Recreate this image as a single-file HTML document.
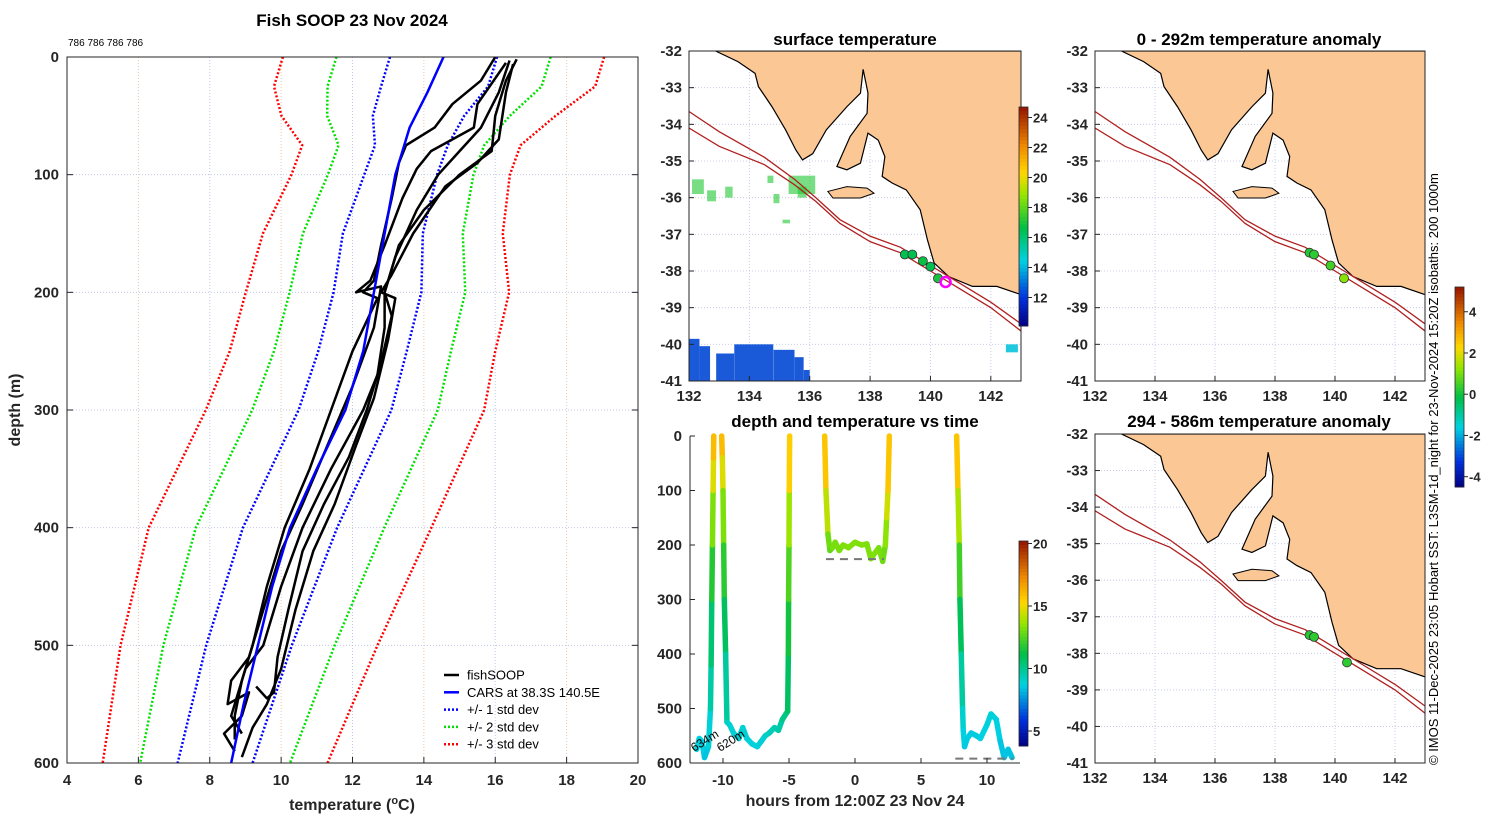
<!DOCTYPE html>
<html><head><meta charset="utf-8">
<style>
html,body{margin:0;padding:0;background:#fff;}
svg{display:block;font-family:"Liberation Sans","DejaVu Sans",sans-serif;}
.tk{font-size:15px;font-weight:bold;fill:#262626;}
.ttl{font-size:17px;font-weight:bold;fill:#000;}
.lg{font-size:13px;fill:#000;}
</style></head>
<body>
<svg id="s" width="1500" height="820" viewBox="0 0 1500 820" xmlns="http://www.w3.org/2000/svg">
<text class="ttl" x="352" y="26" text-anchor="middle">Fish SOOP 23 Nov 2024</text>
<text x="68" y="46" style="font-size:10px">786 786 786 786</text>
<text class="ttl" x="855" y="45" text-anchor="middle">surface temperature</text>
<text class="ttl" x="855" y="427" text-anchor="middle">depth and temperature vs time</text>
<text class="ttl" x="1259" y="45" text-anchor="middle">0 - 292m temperature anomaly</text>
<text class="ttl" x="1259" y="427" text-anchor="middle">294 - 586m temperature anomaly</text>
<text x="1438" y="765" transform="rotate(-90 1438 765)" style="font-size:13px">© IMOS 11-Dec-2025 23:05 Hobart SST: L3SM-1d_night for 23-Nov-2024 15:20Z isobaths: 200  1000m</text>
</svg>
<script>
// ---------- profile data ----------
const stdDepths=[0,25,50,75,100,150,200,250,300,400,500,600];
const stdCenter=[14.55,14.3,13.85,13.65,13.35,12.85,12.7,12.28,11.79,10.25,9.1,8.15];
const stdSd=[1.5,1.5,1.28,1.02,1.02,1.12,1.23,1.24,1.3,1.32,1.2,1.05];
const carsDepths=[0,30,60,100,150,200,250,300,350,400,450,500,550,600];
const carsTemps=[14.55,14.1,13.6,13.2,12.9,12.6,12.3,11.8,11.0,10.25,9.75,9.35,8.95,8.6];
const fishProfiles=[
 [[0,16.0],[20,15.6],[40,14.8],[60,14.3],[75,13.5],[90,13.3],[120,13.1],[160,12.8],[190,12.6],[200,12.3],[205,12.7],[250,12.0],[300,11.4],[350,10.8],[400,10.1],[450,9.6],[500,9.2],[530,8.9],[560,8.7],[580,8.7]],
 [[3,16.4],[30,16.1],[60,15.6],[80,15.0],[100,14.4],[130,13.8],[170,13.2],[200,12.9],[220,13.1],[260,12.8],[300,12.4],[340,11.9],[380,11.2],[420,10.6],[470,10.2],[510,9.9],[540,9.8],[545,9.6],[535,9.3]],
 [[5,16.3],[40,15.5],[60,15.4],[80,14.2],[95,13.8],[120,13.4],[160,12.9],[190,12.5],[200,12.1],[195,12.8],[230,12.6],[280,12.0],[330,11.3],[380,10.6],[420,10.0],[470,9.5],[510,9.1],[530,8.6],[550,8.5],[540,9.1],[560,8.9],[575,8.4],[590,8.7]],
 [[2,16.6],[20,16.3],[50,16.0],[80,15.9],[100,15.0],[130,14.0],[160,13.3],[200,12.9],[230,12.9],[270,12.7],[300,12.3],[350,11.4],[400,10.6],[450,10.0],[500,9.5],[520,9.0],[540,8.8],[560,8.6],[575,8.9]],
 [[6,16.5],[30,16.3],[70,16.1],[90,15.5],[110,14.6],[150,13.7],[185,13.1],[200,12.8],[205,13.2],[240,13.0],[290,12.6],[330,12.1],[380,11.5],[420,10.9],[470,10.4],[520,10.0],[550,9.6],[570,9.2],[595,8.9]]
];
const tempTicks=[4,6,8,10,12,14,16,18,20];
const depthTicks=[0,100,200,300,400,500,600];
// ---------- time series data ----------
const trackHours=[
 [-12.0,-11.8,-11.6,-11.4,-11.1,-10.95,-10.9,-10.85,-10.8,-10.75,-10.72,-10.7],
 [-10.1,-10.05,-10.0,-9.95,-9.9,-9.8,-9.7,-9.5,-9.2,-8.8,-8.5,-8.2,-7.8,-7.4,-7.1,-6.8,-6.5,-6.1,-5.8,-5.5,-5.1,-5.05,-5.03,-5.0,-4.98,-4.95],
 [-2.3,-2.2,-2.05,-1.9,-1.7,-1.5,-1.2,-0.9,-0.5,0,0.5,0.9,1.2,1.5,1.8,2.1,2.3,2.4,2.5,2.6],
 [7.7,7.8,7.9,7.95,8.05,8.15,8.2,8.3,8.5,8.8,9.2,9.5,10.0,10.3,10.7,11.0,11.3,11.6,11.9]];
const trackDepths=[
 [575,555,560,590,570,500,420,300,200,100,40,0],
 [0,40,100,200,300,400,525,530,545,555,535,555,565,570,560,550,545,535,540,520,505,400,300,200,100,0],
 [0,100,180,210,205,195,210,200,205,195,200,198,225,215,205,230,200,150,100,0],
 [0,100,200,300,400,500,540,570,555,545,550,555,530,510,520,560,590,575,590]];
const trackTemps=[
 [8.8,8.8,8.8,8.5,8.5,9.3,10,11,12.5,14,15.5,16.5],
 [16.5,15.5,14,12.5,11.3,10.3,9.3,9,8.9,8.9,9,8.9,8.8,8.8,8.9,9,9.2,9.5,9.5,9.8,10.5,11,12,13,14.5,16.5],
 [16.5,15,13.5,12.5,13,13.3,13,13.3,13.3,13.3,13.3,13.3,13.2,13.3,13.3,13,13,14,15,16.5],
 [16.5,15,13,11.5,10.3,9.2,8.8,8.6,8.6,8.6,8.6,8.6,8.8,8.9,8.8,8.6,8.4,8.5,8.4]];
const hourTicks=[-10,-5,0,5,10];
const depthTicks2=[0,100,200,300,400,500,600];
// ---------- map data ----------
const landLon=[132.88,133.62,134.19,134.3,134.75,135.2,135.54,135.76,136.1,136.55,137.23,137.68,137.77,137.93,137.9,137.34,136.9,137.23,137.68,137.93,138.27,138.49,138.4,138.73,139.2,139.66,139.9,140.12,140.6,141.39,142.2,143.2,143.2];
const landLat=[-32.0,-32.29,-32.61,-32.97,-33.52,-34.15,-34.7,-34.97,-34.8,-34.15,-33.52,-33.15,-32.5,-33.15,-33.7,-34.33,-35.15,-35.24,-35.06,-34.24,-34.43,-34.88,-35.42,-35.6,-35.79,-36.33,-37.15,-37.78,-38.15,-38.42,-38.42,-38.7,-32.0];
const islandLon=[136.6,137.23,137.9,138.13,137.68,136.77];
const islandLat=[-35.83,-35.7,-35.74,-35.88,-36.01,-36.01];
const iso1Lon=[132,133,134.5,135.5,136.2,137,138,139,140,141,142,143.1];
const iso1Lat=[-33.65,-34.2,-34.9,-35.5,-36.0,-36.6,-37.05,-37.35,-37.85,-38.35,-38.85,-39.5];
const iso2Lon=[132,133,134.5,135.5,136.2,137,138,139,140,141,142,143.1];
const iso2Lat=[-34.1,-34.6,-35.1,-35.65,-36.1,-36.7,-37.2,-37.5,-38.0,-38.5,-39.0,-39.7];
const sstDotLon=[139.15,139.4,139.75,140.0,140.25];
const sstDotLat=[-37.55,-37.55,-37.73,-37.88,-38.2];
const sstDotVal=[16.5,16.5,16.8,16.5,17];
const anomTopLon=[139.15,139.3,139.85,140.3];
const anomTopLat=[-37.5,-37.55,-37.85,-38.2];
const anomTopVal=[0.2,0.3,0.5,1.2];
const anomBotLon=[139.15,139.3,140.4];
const anomBotLat=[-37.5,-37.55,-38.25];
const anomBotVal=[0.2,0.3,0.3];
const lonTicks=[132,134,136,138,140,142];
const latTicks=[-32,-33,-34,-35,-36,-37,-38,-39,-40,-41];

const NS='http://www.w3.org/2000/svg';
const svg=document.getElementById('s');
function mk(tag,attrs,parent){const e=document.createElementNS(NS,tag);for(const k in attrs)e.setAttribute(k,attrs[k]);(parent||svg).appendChild(e);return e;}
const CM=[[0,0,0,130],[0.13,0,50,220],[0.3,0,210,225],[0.45,0,190,70],[0.6,150,230,0],[0.7,255,215,0],[0.82,240,140,0],[1,150,20,0]];
function jet(t){t=Math.max(0,Math.min(1,t));
 for(let i=0;i<CM.length-1;i++){const a=CM[i],b=CM[i+1];if(t<=b[0]){const f=(t-a[0])/(b[0]-a[0]);
  return `rgb(${Math.round(a[1]+f*(b[1]-a[1]))},${Math.round(a[2]+f*(b[2]-a[2]))},${Math.round(a[3]+f*(b[3]-a[3]))})`;}}
 return 'rgb(150,20,0)';}

// ===== profile chart =====
const P={x0:67,x1:638,y0:57,y1:763};
const px=t=>P.x0+(t-4)/16*(P.x1-P.x0);
const py=d=>P.y0+d/600*(P.y1-P.y0);
tempTicks.forEach((t,i)=>{
 if(i>0&&i<tempTicks.length-1){const g=mk('line',{x1:px(t),x2:px(t),y1:P.y0,y2:P.y1,stroke:i%2?'#e8c8b0':'#c0c8e8','stroke-width':1,'stroke-dasharray':'1 2'});
 }
 const l=mk('text',{x:px(t),y:P.y1+22,class:'tk','text-anchor':'middle'});l.textContent=t;
 
 mk('line',{x1:px(t),x2:px(t),y1:P.y1,y2:P.y1-6,stroke:'#262626'});
});
depthTicks.forEach((d,i)=>{
 if(i>0&&i<depthTicks.length-1){const g=mk('line',{x1:P.x0,x2:P.x1,y1:py(d),y2:py(d),stroke:'#c0c8e8','stroke-width':1,'stroke-dasharray':'1 2'});
 }
 const l=mk('text',{x:P.x0-8,y:py(d)+5,class:'tk','text-anchor':'end'});l.textContent=d;
 
 mk('line',{x1:P.x0,x2:P.x0+6,y1:py(d),y2:py(d),stroke:'#262626'});
 mk('line',{x1:P.x1,x2:P.x1-6,y1:py(d),y2:py(d),stroke:'#262626'});
});
const stdCols=['#0000ff','#00e000','#ff0000'];
[1,2,3].forEach(k=>{[-1,1].forEach(sg=>{
 const pts=stdDepths.map((d,i)=>px(stdCenter[i]+sg*k*stdSd[i])+','+py(d)).join(' ');
 const l=mk('polyline',{points:pts,fill:'none',stroke:stdCols[k-1],'stroke-width':2.5,'stroke-dasharray':'2 2'});
 
});});
fishProfiles.forEach((pr,i)=>{
 const l=mk('polyline',{points:pr.map(p=>px(p[1])+','+py(p[0])).join(' '),fill:'none',stroke:'#000','stroke-width':2.5,'stroke-linejoin':'round'});
 
});
{const l=mk('polyline',{points:carsDepths.map((d,i)=>px(carsTemps[i])+','+py(d)).join(' '),fill:'none',stroke:'#0000ff','stroke-width':2.5});
 }
{const f=mk('rect',{x:P.x0,y:P.y0,width:P.x1-P.x0,height:P.y1-P.y0,fill:'none',stroke:'#262626','stroke-width':1});
 }
{const t=mk('text',{x:352,y:810,class:'tk','text-anchor':'middle'});t.style.fontSize='16px';t.innerHTML='temperature (<tspan dy="-6" font-size="11">o</tspan><tspan dy="6">C)</tspan>';
 
 const y=mk('text',{x:20,y:410,class:'tk','text-anchor':'middle',transform:'rotate(-90 20 410)'});y.textContent='depth (m)';y.style.fontSize='16px';
 }
const legNames=['fishSOOP','CARS at 38.3S 140.5E','+/- 1 std dev','+/- 2 std dev','+/- 3 std dev'];
const legCols=['#000','#0000ff','#0000ff','#00e000','#ff0000'];
legNames.forEach((n,i)=>{const y=675+i*17.3;
 const g=mk('g',{});
 mk('line',{x1:444,x2:459,y1:y,y2:y,stroke:legCols[i],'stroke-width':2.5,'stroke-dasharray':i>1?'2 2':'none'},g);
 const t=mk('text',{x:467,y:y+4.5,class:'lg'},g);t.textContent=n;});

// ===== maps =====
function drawMap(M,name){
 const mx=lon=>M.x0+(lon-132)/11*(M.x1-M.x0), my=lat=>M.y0+(-32-lat)/9*(M.y1-M.y0);
 const g=mk('g',{});
 const cid='c'+name;const cp=mk('clipPath',{id:cid},g);mk('rect',{x:M.x0,y:M.y0,width:M.x1-M.x0,height:M.y1-M.y0},cp);
 const inner=mk('g',{'clip-path':`url(#${cid})`},g);
 lonTicks.forEach(l=>mk('line',{x1:mx(l),x2:mx(l),y1:M.y0,y2:M.y1,stroke:'#c8cce8','stroke-dasharray':'1 2'},inner));
 latTicks.forEach(l=>mk('line',{x1:M.x0,x2:M.x1,y1:my(l),y2:my(l),stroke:'#c8cce8','stroke-dasharray':'1 2'},inner));
 if(M.sst){
  const blues=[[132,-39.85,0.35,-41],[132.35,-40.05,0.35,-41],[132.9,-40.25,0.6,-41],[133.5,-40.0,1.3,-41],[134.8,-40.15,0.7,-41],[135.5,-40.35,0.3,-41],[135.8,-40.7,0.2,-41]];
  blues.forEach(r=>{const e=mk('rect',{x:mx(r[0]),y:my(r[1]),width:r[2]*30,height:my(r[3])-my(r[1]),fill:'#1a5ad8'},inner);
   });
  const cy=mk('rect',{x:mx(142.5),y:my(-40.0),width:12,height:8,fill:'#20c8e0'},inner);
  const greens=[[135.3,-35.4,0.9,0.5],[135.6,-35.7,0.3,0.3],[134.8,-35.9,0.2,0.25],[132.1,-35.5,0.4,0.4],[132.6,-35.8,0.3,0.3],[133.2,-35.7,0.25,0.3],[135.1,-36.6,0.25,0.1],[134.6,-35.4,0.2,0.2]];
  greens.forEach(r=>{const e=mk('rect',{x:mx(r[0]),y:my(r[1]),width:r[2]*29.6,height:r[3]*36.7,fill:'#20c830',opacity:0.6},inner);
   });
 }
 const land=mk('polygon',{points:landLon.map((l,i)=>mx(l)+','+my(landLat[i])).join(' '),fill:'#fbc895',stroke:'#000','stroke-width':1.2},inner);
 
 const isl=mk('polygon',{points:islandLon.map((l,i)=>mx(l)+','+my(islandLat[i])).join(' '),fill:'#fbc895',stroke:'#000','stroke-width':1},inner);
 
 [[iso1Lon,iso1Lat],[iso2Lon,iso2Lat]].forEach(a=>{const l=mk('polyline',{points:a[0].map((l,i)=>mx(l)+','+my(a[1][i])).join(' '),fill:'none',stroke:'#b02020','stroke-width':1.3},inner);
  });
 M.dots[0].forEach((l,i)=>{const c=mk('circle',{cx:mx(l),cy:my(M.dots[1][i]),r:4.5,fill:M.col(M.dots[2][i]),stroke:'#333','stroke-width':0.8},inner);
  });
 if(M.sst){const c=mk('circle',{cx:mx(140.5),cy:my(-38.3),r:5,fill:'none',stroke:'#ff00ff','stroke-width':2.5},inner);
  }
 mk('rect',{x:M.x0,y:M.y0,width:M.x1-M.x0,height:M.y1-M.y0,fill:'none',stroke:'#262626'},g);
 lonTicks.forEach(l=>{mk('line',{x1:mx(l),x2:mx(l),y1:M.y1,y2:M.y1-5,stroke:'#262626'},g);
  const t=mk('text',{x:mx(l),y:M.y1+20,class:'tk','text-anchor':'middle'},g);t.textContent=l;
  });
 latTicks.forEach(l=>{mk('line',{x1:M.x0,x2:M.x0+5,y1:my(l),y2:my(l),stroke:'#262626'},g);
  const t=mk('text',{x:M.x0-7,y:my(l)+5,class:'tk','text-anchor':'end'},g);t.textContent=l;
  });
}
drawMap({x0:689,x1:1021,y0:51,y1:381,sst:true,dots:[sstDotLon,sstDotLat,sstDotVal],col:v=>jet((v-10.1)/14.6)},'sst-map');
drawMap({x0:1095,x1:1425,y0:51,y1:381,dots:[anomTopLon,anomTopLat,anomTopVal],col:v=>jet((v+4.5)/9.7)},'anomaly-map-top');
drawMap({x0:1095,x1:1425,y0:434,y1:763,dots:[anomBotLon,anomBotLat,anomBotVal],col:v=>jet((v+4.5)/9.7)},'anomaly-map-bottom');

// ===== colorbars =====
function cbar(x,y0,y1,vmin,vmax,ticks,name){
 const g=mk('g',{});
 const n=60;for(let i=0;i<n;i++){mk('rect',{x:x,y:y1-(i+1)*(y1-y0)/n,width:9,height:(y1-y0)/n+0.5,fill:jet((i+0.5)/n)},g);}
 mk('rect',{x:x,y:y0,width:9,height:y1-y0,fill:'none',stroke:'#262626','stroke-width':0.8},g);
 ticks.forEach(t=>{const y=y1-(t-vmin)/(vmax-vmin)*(y1-y0);
  mk('line',{x1:x+9,x2:x+13,y1:y,y2:y,stroke:'#262626'},g);
  const e=mk('text',{x:x+14,y:y+5,class:'tk'},g);e.textContent=t;e.style.fontSize='13px';});
}
cbar(1019,107,326,10.1,24.7,[12,14,16,18,20,22,24],'sst-colorbar');
cbar(1455,287,487,-4.5,5.2,[-4,-2,0,2,4],'anomaly-colorbar');
cbar(1019,541,746,3.8,20.2,[5,10,15,20],'time-colorbar');

// ===== time chart =====
const T={x0:690,x1:1020,y0:436,y1:763};
const tx=h=>T.x0+(h+12.5)/25*(T.x1-T.x0), ty=d=>T.y0+d/600*(T.y1-T.y0);
trackHours.forEach((hs,k)=>{for(let i=0;i<hs.length-1;i++){
 const l=mk('line',{x1:tx(hs[i]),y1:ty(trackDepths[k][i]),x2:tx(hs[i+1]),y2:ty(trackDepths[k][i+1]),stroke:jet(((trackTemps[k][i]+trackTemps[k][i+1])/2-3.8)/16.4),'stroke-width':5.5,'stroke-linecap':'round'});
 }});
[[-2.2,2.2,226],[7.6,12,592]].forEach(b=>{const l=mk('line',{x1:tx(b[0]),x2:tx(b[1]),y1:ty(b[2]),y2:ty(b[2]),stroke:'#777','stroke-width':2,'stroke-dasharray':'8 6'});
 });
[['634m',694,752],['620m',720,752]].forEach(a=>{const t=mk('text',{x:a[1],y:a[2],'font-size':'12',transform:`rotate(-32 ${a[1]} ${a[2]})`});t.textContent=a[0];
 });
mk('line',{x1:T.x0,x2:T.x0,y1:T.y0,y2:T.y1,stroke:'#262626'});
mk('line',{x1:T.x0,x2:T.x1,y1:T.y1,y2:T.y1,stroke:'#262626'});
hourTicks.forEach(h=>{mk('line',{x1:tx(h),x2:tx(h),y1:T.y1,y2:T.y1-5,stroke:'#262626'});
 const t=mk('text',{x:tx(h),y:T.y1+22,class:'tk','text-anchor':'middle'});t.textContent=h;
 });
depthTicks2.forEach(d=>{mk('line',{x1:T.x0,x2:T.x0+5,y1:ty(d),y2:ty(d),stroke:'#262626'});
 const t=mk('text',{x:T.x0-8,y:ty(d)+5,class:'tk','text-anchor':'end'});t.textContent=d;
 });
{const t=mk('text',{x:855,y:806,class:'tk','text-anchor':'middle'});t.textContent='hours from 12:00Z 23 Nov 24';t.style.fontSize='16px';
 }
</script>
</body></html>
